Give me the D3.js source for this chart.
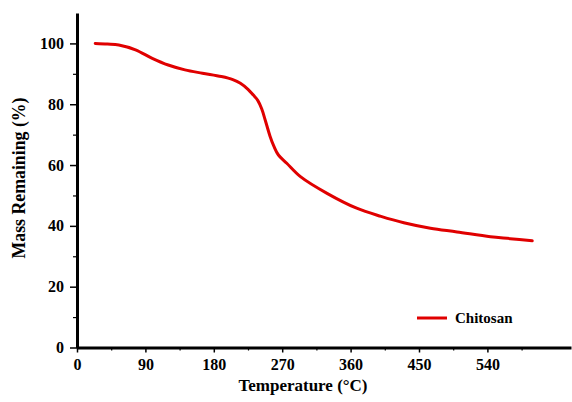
<!DOCTYPE html>
<html>
<head>
<meta charset="utf-8">
<script src="https://cdnjs.cloudflare.com/ajax/libs/d3/7.8.5/d3.min.js"></script>
<style>
  body { margin: 0; background: #fff; }
  text { font-family: "Liberation Serif", "Times New Roman", serif; font-weight: bold; }
</style>
</head>
<body>
<div id="chart"></div>
<script>
// TGA curve of chitosan
var temps = [24, 40, 55, 77, 99, 120, 142, 165, 190, 205, 215, 225, 232, 238, 243, 248, 254, 259, 265, 276, 294, 329, 368, 400, 430, 465, 500, 544, 570, 599];
var mass  = [100, 99.8, 99.5, 97.9, 95.1, 92.9, 91.3, 90.2, 89.1, 88.1, 86.9, 84.9, 83.0, 81.2, 78.5, 74.5, 69.5, 66.2, 63.3, 60.6, 56.2, 50.7, 45.8, 43.1, 41.0, 39.2, 38, 36.4, 35.8, 35.1];
var xTicks = [0, 90, 180, 270, 360, 450, 540];
var yTicks = [0, 20, 40, 60, 80, 100];
var seriesName = "Chitosan";

var W = 572, H = 402;
var margin = {left: 77, top: 13, right: 1, bottom: 54.5};

var svg = d3.select("#chart").append("svg")
  .attr("width", W)
  .attr("height", H);

var x = d3.scaleLinear().domain([0, 650]).range([margin.left, W - margin.right]);
var y = d3.scaleLinear().domain([0, 110]).range([H - margin.bottom, margin.top]);

// minor ticks
svg.append("g")
  .attr("transform", "translate(0," + y(0) + ")")
  .call(d3.axisBottom(x).tickValues(d3.range(45, 650, 90)).tickSize(3).tickFormat(""))
  .call(function(g){ g.select(".domain").remove(); g.selectAll("line").attr("stroke-width", 1.2); });
svg.append("g")
  .attr("transform", "translate(" + x(0) + ",0)")
  .call(d3.axisLeft(y).tickValues(d3.range(10, 110, 20)).tickSize(4).tickFormat(""))
  .call(function(g){ g.select(".domain").remove(); g.selectAll("line").attr("stroke-width", 1.2); });

// x axis
var gx = svg.append("g")
  .attr("transform", "translate(0," + y(0) + ")")
  .call(d3.axisBottom(x).tickValues(xTicks).tickSize(5).tickSizeOuter(0).tickPadding(6));
gx.select(".domain").attr("stroke-width", 3);
gx.selectAll("line").attr("stroke-width", 1.5);
gx.selectAll("text").attr("font-size", 16).attr("font-family", "Liberation Serif").attr("font-weight", "bold");

// y axis
var gy = svg.append("g")
  .attr("transform", "translate(" + x(0) + ",0)")
  .call(d3.axisLeft(y).tickValues(yTicks).tickSize(7).tickSizeOuter(0).tickPadding(6));
gy.select(".domain").attr("stroke-width", 3);
gy.selectAll("line").attr("stroke-width", 1.5);
gy.selectAll("text").attr("font-size", 16).attr("font-family", "Liberation Serif").attr("font-weight", "bold");

// axis titles
svg.append("text")
  .attr("x", 303)
  .attr("y", 391)
  .attr("text-anchor", "middle")
  .attr("font-size", 17)
  .text("Temperature (°C)");

svg.append("text")
  .attr("transform", "translate(25,178) rotate(-90)")
  .attr("text-anchor", "middle")
  .attr("font-size", 17.8)
  .text("Mass Remaining (%)");

// curve
var pts = temps.map(function(t, i){ return [t, mass[i]]; });
var line = d3.line()
  .x(function(d){ return x(d[0]); })
  .y(function(d){ return y(d[1]); })
  .curve(d3.curveCatmullRom.alpha(0.5));

svg.append("path")
  .datum(pts)
  .attr("d", line)
  .attr("fill", "none")
  .attr("stroke", "#e00000")
  .attr("stroke-width", 3)
  .attr("stroke-linejoin", "round")
  .attr("stroke-linecap", "round");

// legend
svg.append("line")
  .attr("x1", 417).attr("x2", 447)
  .attr("y1", 318).attr("y2", 318)
  .attr("stroke", "#e00000")
  .attr("stroke-width", 3);
svg.append("text")
  .attr("x", 455)
  .attr("y", 323)
  .attr("font-size", 15)
  .text(seriesName);
</script>
</body>
</html>
